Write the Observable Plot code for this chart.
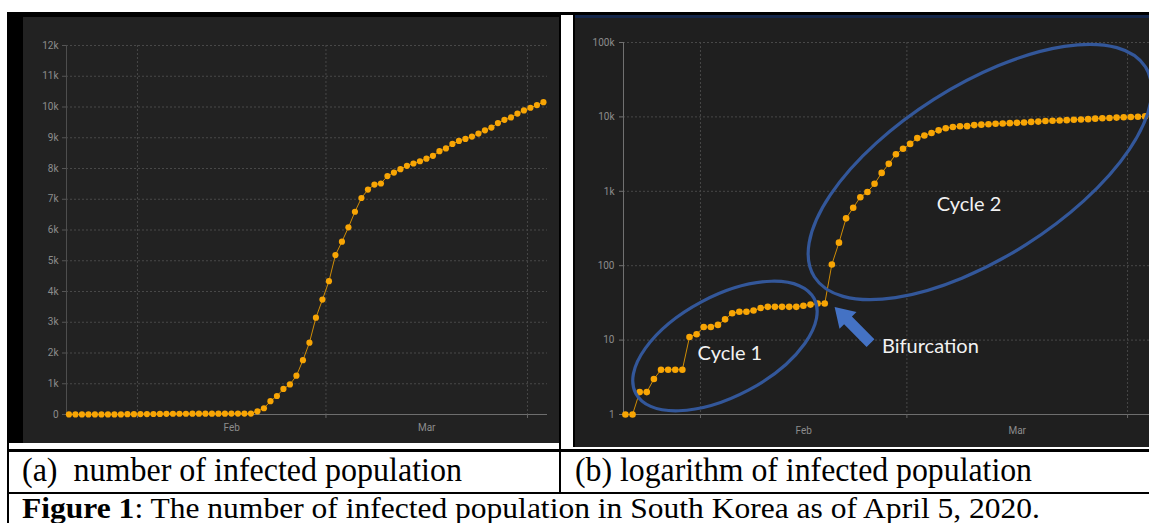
<!DOCTYPE html>
<html>
<head>
<meta charset="utf-8">
<script src="https://cdn.jsdelivr.net/npm/d3@7"></script>
<script src="https://cdn.jsdelivr.net/npm/@observablehq/plot@0.6"></script>
<style>
html, body { margin: 0; padding: 0; background: #fff; }
#page { position: relative; width: 1149px; height: 523px; overflow: hidden; background: #fff; }
.ln { position: absolute; background: #000; }
.cap { position: absolute; font-family: "Liberation Serif", "Times New Roman", serif; font-size: 34px; line-height: 34px; color: #000; white-space: nowrap; transform-origin: 0 0; }
#capF { font-size: 29px; line-height: 29px; }
</style>
</head>
<body>
<div id="page">
  <div style="position:absolute;left:7px;top:12px;width:552px;height:431px;background:#000"></div>
  <div id="left" style="position:absolute;left:23px;top:17px;"></div>
  <div style="position:absolute;left:573px;top:12px;width:576px;height:435px;background:#000"></div>
  <div style="position:absolute;left:575px;top:15px;width:574px;height:3px;background:#14264a"></div>
  <div id="right" style="position:absolute;left:575px;top:18px;"></div>

  <div class="ln" style="left:7px;top:12px;width:1142px;height:3px"></div>
  <div class="ln" style="left:7px;top:12px;width:2px;height:511px"></div>
  <div class="ln" style="left:559px;top:12px;width:2px;height:481px"></div>
  <div class="ln" style="left:7px;top:449px;width:1142px;height:3px"></div>
  <div class="ln" style="left:7px;top:492px;width:1142px;height:2px"></div>

  <div class="cap" id="capA" data-w="440" style="left:22px;top:453px">(a)&nbsp; number of infected population</div>
  <div class="cap" id="capB" data-w="457" style="left:575px;top:453px">(b) logarithm of infected population</div>
  <div class="cap" id="capF" data-w="1018" style="left:22px;top:494px"><b>Figure 1</b>: The number of infected population in South Korea as of April 5, 2020.</div>
</div>
<script>
// ---- data (daily confirmed cases, South Korea, from 2020-01-22) ----
const startDay = "2020-01-22";
const cases = [1,1,2,2,3,4,4,4,4,11,12,15,15,16,19,23,24,24,25,27,28,28,28,28,28,29,30,31,31,
  104,204,433,602,833,977,1261,1766,2337,3150,3736,4335,5186,5621,6088,6593,7041,7314,7478,7513,
  7755,7869,7979,8086,8162,8236,8320,8413,8565,8652,8799,8897,8961,9037,9137,9241,9332,9478,9583,
  9661,9786,9887,9976,10062,10156];
const monthStarts = ["2020-02-01", "2020-03-01", "2020-04-01"];
const monthLabels = ["Feb", "Mar"];
const linTicks = [0,1000,2000,3000,4000,5000,6000,7000,8000,9000,10000,11000,12000];
const linLabels = ["0","1k","2k","3k","4k","5k","6k","7k","8k","9k","10k","11k","12k"];
const logTicks = [1,10,100,1000,10000,100000];
const logLabels = ["1","10","100","1k","10k","100k"];
const cycleNames = ["Cycle 1", "Cycle 2"];
const arrowName = "Bifurcation";

// annotation anchors in data space (date, cases)
const cycleAnchors = [
  {at: "2020-02-04T12:15:00Z", value: 8.2, rx: 101, ry: 50, angle: -28, labelAt: "2020-02-05T05:00:00Z", labelValue: 6.6},
  {at: "2020-03-11T08:00:00Z", value: 1790, rx: 196, ry: 86, angle: -32.4, labelAt: "2020-03-09T19:00:00Z", labelValue: 666}
];
const arrowAnchor = {tipAt: "2020-02-19T22:00:00Z", tipValue: 27.5, tailAt: "2020-02-24T23:00:00Z", tailValue: 9.0,
  labelAt: "2020-02-26T14:00:00Z", labelValue: 8.2};

// ---- build table ----
const parse = d3.utcParse("%Y-%m-%d");
const t0 = parse(startDay);
const data = cases.map((v, i) => ({date: d3.utcDay.offset(t0, i), value: v}));
const shift = 13 * 3600e3;
const xAcc = d => new Date(+d.date - shift);
const months = monthStarts.map(parse);
const mids = monthLabels.map((_, i) => new Date((+months[i] + +months[i + 1]) / 2));
const midLabel = new Map(mids.map((d, i) => [+d, monthLabels[i]]));
const linLabel = new Map(linTicks.map((d, i) => [d, linLabels[i]]));
const logLabel = new Map(logTicks.map((d, i) => [d, logLabels[i]]));

const gridStyle = {stroke: "#484848", strokeOpacity: 1, strokeDasharray: "2,2"};
const baseStyle = {color: "#8c8c8c", fontFamily: "Roboto, sans-serif", fontSize: "10px", overflow: "hidden"};

const leftDomain = [new Date(Date.UTC(2020, 0, 21, 2)), new Date(Date.UTC(2020, 3, 4, 2))];
const leftPlot = Plot.plot({
  width: 536, height: 426,
  marginLeft: 43, marginRight: 12, marginTop: 28, marginBottom: 29,
  style: {...baseStyle, background: "#222222"},
  x: {type: "utc", domain: leftDomain, label: null},
  y: {type: "linear", domain: [0, 12000], label: null},
  marks: [
    Plot.gridY({ticks: linTicks, ...gridStyle}),
    Plot.gridX({ticks: months, ...gridStyle}),
    Plot.ruleX([leftDomain[0]], {stroke: "#4e4e4e"}),
    Plot.ruleY([0], {stroke: "#6e6e6e"}),
    Plot.axisY({ticks: linTicks, tickFormat: d => linLabel.get(d), tickSize: 4, tickPadding: 4, stroke: "#555", label: null}),
    Plot.axisX({ticks: months, tickFormat: () => "", tickSize: 4, stroke: "#666", label: null}),
    Plot.axisX({ticks: mids, tickFormat: d => midLabel.get(+d), tickSize: 0, tickPadding: 9, label: null}),
    Plot.line(data, {x: xAcc, y: "value", stroke: "#cf8c06", strokeWidth: 1}),
    Plot.dot(data, {x: xAcc, y: "value", r: 3.1, fill: "#f8a504"})
  ]
});
document.getElementById("left").append(leftPlot);

const parseT = d3.isoParse;
function annotations(index, scales) {
  const x = scales.x, y = scales.y;
  const g = d3.create("svg:g");
  cycleAnchors.forEach((e, i) => {
    g.append("ellipse")
      .attr("cx", 0).attr("cy", 0).attr("rx", e.rx).attr("ry", e.ry)
      .attr("transform", `translate(${x(parseT(e.at))},${y(e.value)}) rotate(${e.angle})`)
      .attr("fill", "none").attr("stroke", "#33579a").attr("stroke-width", 3.2);
    g.append("text")
      .attr("x", x(parseT(e.labelAt))).attr("y", y(e.labelValue))
      .attr("text-anchor", "middle").attr("dy", "0.35em")
      .attr("fill", "#f2f2f2").style("font-family", "Lato, sans-serif").style("font-size", "20px")
      .text(cycleNames[i]);
  });
  const tx = x(parseT(arrowAnchor.tipAt)), ty = y(arrowAnchor.tipValue);
  const sx = x(parseT(arrowAnchor.tailAt)), sy = y(arrowAnchor.tailValue);
  const L = Math.hypot(tx - sx, ty - sy), ux = (tx - sx) / L, uy = (ty - sy) / L, nx = -uy, ny = ux;
  const hw = 5.5, hh = 12, hl = 19;
  const bx = tx - ux * hl, by = ty - uy * hl;
  const pts = [
    [sx + nx * hw, sy + ny * hw], [bx + nx * hw, by + ny * hw], [bx + nx * hh, by + ny * hh],
    [tx, ty],
    [bx - nx * hh, by - ny * hh], [bx - nx * hw, by - ny * hw], [sx - nx * hw, sy - ny * hw]
  ];
  g.append("polygon").attr("points", pts.map(p => p.join(",")).join(" ")).attr("fill", "#4472c4");
  g.append("text")
    .attr("x", x(parseT(arrowAnchor.labelAt))).attr("y", y(arrowAnchor.labelValue))
    .attr("text-anchor", "start")
    .attr("dy", "0.35em").attr("fill", "#f2f2f2")
    .style("font-family", "Lato, sans-serif").style("font-size", "20px")
    .text(arrowName);
  return g.node();
}

const rightDomain = [new Date(Date.UTC(2020, 0, 21, 4, 30)), new Date(Date.UTC(2020, 3, 4, 2))];
const rightPlot = Plot.plot({
  width: 574, height: 429,
  marginLeft: 48, marginRight: 0, marginTop: 24, marginBottom: 33,
  style: {...baseStyle, background: "#1f1f1f"},
  x: {type: "utc", domain: rightDomain, label: null},
  y: {type: "log", domain: [1, 100000], label: null},
  marks: [
    Plot.gridY({ticks: logTicks, ...gridStyle}),
    Plot.gridX({ticks: months, ...gridStyle}),
    Plot.ruleX([rightDomain[0]], {stroke: "#707070"}),
    Plot.ruleY([1], {stroke: "#6e6e6e"}),
    Plot.axisY({ticks: logTicks, tickFormat: d => logLabel.get(d), tickSize: 4, tickPadding: 5, stroke: "#707070", label: null}),
    Plot.axisX({ticks: months, tickFormat: () => "", tickSize: 4, stroke: "#666", label: null}),
    Plot.axisX({ticks: mids, tickFormat: d => midLabel.get(+d), tickSize: 0, tickPadding: 12, label: null}),
    Plot.line(data, {x: xAcc, y: "value", stroke: "#cf8c06", strokeWidth: 1}),
    Plot.dot(data, {x: xAcc, y: "value", r: 3.3, fill: "#f8a504"}),
    annotations
  ]
});
document.getElementById("right").append(rightPlot);

// fit caption widths
for (const id of ["capA", "capB", "capF"]) {
  const el = document.getElementById(id);
  const w = el.getBoundingClientRect().width;
  el.style.transform = `scaleX(${(+el.dataset.w) / w})`;
}
</script>
</body>
</html>
